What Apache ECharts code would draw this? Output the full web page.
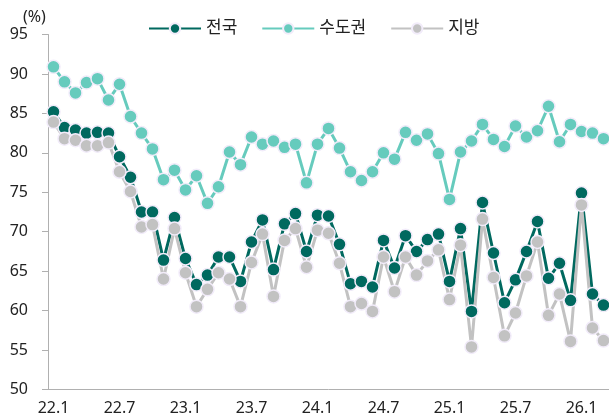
<!DOCTYPE html>
<html>
<head>
<meta charset="utf-8">
<script src="https://cdn.jsdelivr.net/npm/echarts@6/dist/echarts.min.js"></script>
<style>
  html, body { margin: 0; padding: 0; background: #fff; }
  #main { width: 609px; height: 420px; }
</style>
</head>
<body>
<div id="main"></div>
<script>
// months 22.1 .. 26.3
const months = [
  '22.1', '22.2', '22.3', '22.4', '22.5', '22.6', '22.7', '22.8', '22.9', '22.10', '22.11', '22.12',
  '23.1', '23.2', '23.3', '23.4', '23.5', '23.6', '23.7', '23.8', '23.9', '23.10', '23.11', '23.12',
  '24.1', '24.2', '24.3', '24.4', '24.5', '24.6', '24.7', '24.8', '24.9', '24.10', '24.11', '24.12',
  '25.1', '25.2', '25.3', '25.4', '25.5', '25.6', '25.7', '25.8', '25.9', '25.10', '25.11', '25.12',
  '26.1', '26.2', '26.3'
];

const nationwide = [
  85.2, 83.2, 82.9, 82.5, 82.6, 82.5, 79.5, 76.9, 72.5, 72.5,
  66.4, 71.8, 66.6, 63.3, 64.5, 66.8, 66.8, 63.7, 68.7, 71.5,
  65.2, 71.0, 72.3, 67.5, 72.1, 72.0, 68.4, 63.4, 63.7, 63.0,
  68.9, 65.4, 69.5, 67.5, 69.0, 69.7, 63.7, 70.4, 59.9, 73.7,
  67.3, 61.0, 63.9, 67.5, 71.3, 64.1, 66.0, 61.3, 74.9, 62.1, 60.7
];

const capital = [
  90.9, 89.0, 87.6, 88.9, 89.4, 86.7, 88.7, 84.6, 82.5, 80.5,
  76.6, 77.8, 75.3, 77.1, 73.6, 75.7, 80.1, 78.5, 82.0, 81.1,
  81.5, 80.7, 81.1, 76.2, 81.1, 83.1, 80.6, 77.6, 76.5, 77.6,
  80.0, 79.2, 82.6, 81.6, 82.4, 79.9, 74.1, 80.1, 81.5, 83.6,
  81.7, 80.8, 83.4, 82.0, 82.8, 85.9, 81.4, 83.6, 82.7, 82.5, 81.8
];

const regional = [
  83.9, 81.8, 81.6, 80.9, 80.9, 81.3, 77.6, 75.1, 70.6, 70.9,
  64.0, 70.4, 64.8, 60.5, 62.7, 64.8, 64.0, 60.5, 66.1, 69.7,
  61.8, 68.9, 70.4, 65.5, 70.2, 69.8, 66.0, 60.5, 60.9, 59.9,
  66.8, 62.4, 66.8, 64.5, 66.3, 67.7, 61.4, 68.3, 55.4, 71.6,
  64.2, 56.8, 59.7, 64.4, 68.7, 59.4, 62.1, 56.1, 73.4, 57.8, 56.2
];

const names = ['전국', '수도권', '지방'];
const colors = ['#00695f', '#66cbbd', '#c2c2c2'];

function makeSeries(name, data, color) {
  return {
    name: name,
    type: 'line',
    data: data,
    symbol: 'circle',
    symbolSize: 13,
    showAllSymbol: true,
    lineStyle: { width: 3, color: color },
    itemStyle: { color: color, borderColor: '#f2ecfa', borderWidth: 1.5 }
  };
}

const font = "'Noto Sans', 'Noto Sans CJK KR', sans-serif";

let option = {
  animation: false,
  textStyle: { fontFamily: font },
  color: colors,
  title: {
    text: '(%)',
    left: 18,
    top: 4,
    textStyle: { fontSize: 16, fontWeight: 'normal', color: '#222', fontFamily: font }
  },
  legend: {
    left: 143,
    top: 15,
    itemWidth: 52,
    itemHeight: 13,
    itemGap: 24,
    data: names,
    textStyle: { fontSize: 17, color: '#222', fontFamily: font }
  },
  grid: {
    left: 48,
    top: 34.5,
    width: 567,
    height: 355,
    containLabel: false
  },
  xAxis: {
    type: 'category',
    data: months,
    boundaryGap: true,
    axisLine: { lineStyle: { color: '#b0b0b0', width: 1 } },
    axisTick: { interval: 5, length: 5, lineStyle: { color: '#b0b0b0' } },
    axisLabel: { interval: 5, fontSize: 16, color: '#222', margin: 11 },
    splitLine: { show: false }
  },
  yAxis: {
    type: 'value',
    min: 50,
    max: 95,
    interval: 5,
    axisLine: { show: true, lineStyle: { color: '#b0b0b0', width: 1 } },
    axisTick: { show: true, length: 6, lineStyle: { color: '#b0b0b0' } },
    axisLabel: { fontSize: 16, color: '#222', margin: 20 },
    splitLine: { show: false }
  },
  series: [
    makeSeries(names[0], nationwide, colors[0]),
    makeSeries(names[1], capital, colors[1]),
    makeSeries(names[2], regional, colors[2])
  ]
};

let myChart = echarts.init(document.getElementById('main'));
myChart.setOption(option);
</script>
</body>
</html>
